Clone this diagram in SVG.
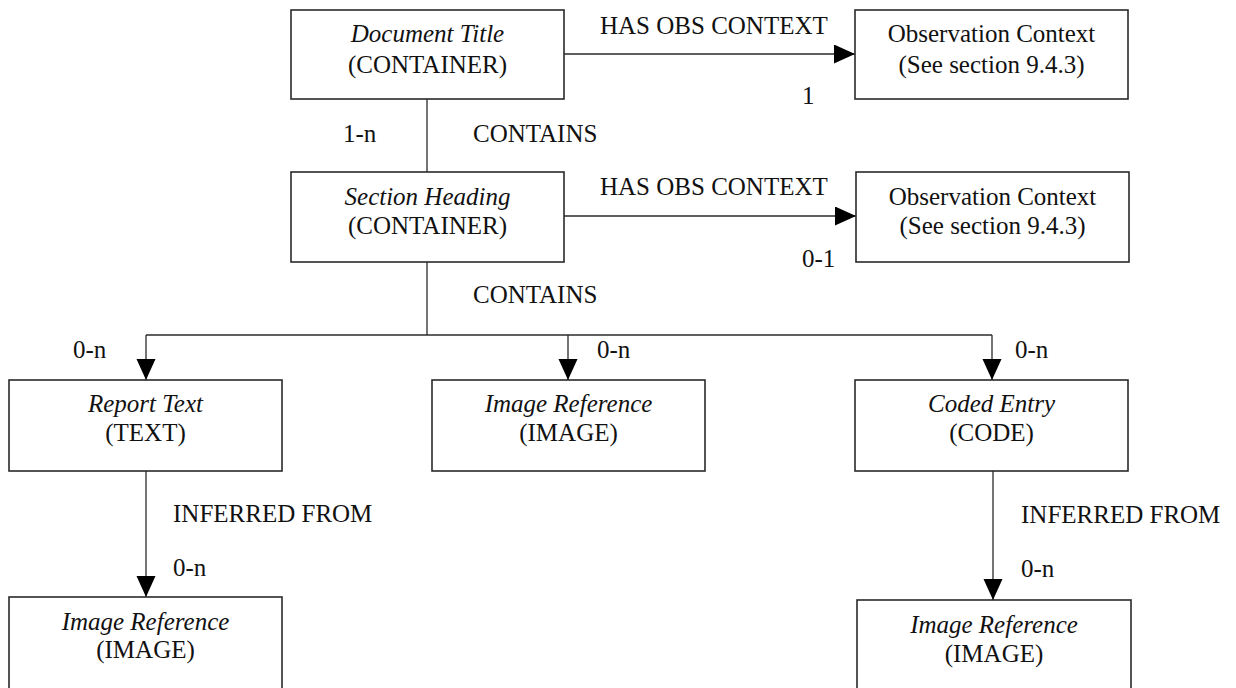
<svg xmlns="http://www.w3.org/2000/svg" width="1236" height="688" viewBox="0 0 1236 688">
<style>
  .box { fill: #fff; stroke: #2a2a2a; stroke-width: 1.6; }
  .ln { fill: none; stroke: #2a2a2a; stroke-width: 1.3; }
  text { font-family: "Liberation Serif", "Times New Roman", Times, serif; font-size: 25px; fill: #111; }
  .it { font-style: italic; }
  .c { text-anchor: middle; }
</style>
<defs>
  <marker id="arr" markerUnits="userSpaceOnUse" markerWidth="22" markerHeight="20" refX="21" refY="9.5" orient="auto">
    <path d="M0,0 L21,9.5 L0,19 Z" fill="#000"/>
  </marker>
</defs>
<rect width="1236" height="688" fill="#fff"/>
<g id="connectors">
  <line class="ln" x1="564" y1="54" x2="855" y2="54" marker-end="url(#arr)"/>
  <line class="ln" x1="564" y1="216" x2="856" y2="216" marker-end="url(#arr)"/>
  <line class="ln" x1="427" y1="99" x2="427" y2="172"/>
  <line class="ln" x1="427" y1="262" x2="427" y2="335"/>
  <line class="ln" x1="146" y1="335" x2="992" y2="335"/>
  <line class="ln" x1="146" y1="335" x2="146" y2="380" marker-end="url(#arr)"/>
  <line class="ln" x1="568" y1="335" x2="568" y2="380" marker-end="url(#arr)"/>
  <line class="ln" x1="992" y1="335" x2="992" y2="380" marker-end="url(#arr)"/>
  <line class="ln" x1="146" y1="471" x2="146" y2="597" marker-end="url(#arr)"/>
  <line class="ln" x1="993" y1="471" x2="993" y2="600" marker-end="url(#arr)"/>
  <text x="600" y="34">HAS OBS CONTEXT</text>
  <text x="802" y="104">1</text>
  <text x="343" y="142">1-n</text>
  <text x="473" y="142">CONTAINS</text>
  <text x="600" y="195">HAS OBS CONTEXT</text>
  <text x="802" y="267">0-1</text>
  <text x="473" y="303">CONTAINS</text>
  <text x="73" y="358">0-n</text>
  <text x="597" y="358">0-n</text>
  <text x="1015" y="358">0-n</text>
  <text x="173" y="522">INFERRED FROM</text>
  <text x="173" y="576">0-n</text>
  <text x="1021" y="523">INFERRED FROM</text>
  <text x="1021" y="577">0-n</text>
</g>
<g id="doc-title">
  <rect class="box" x="291" y="10" width="273" height="89"/>
  <text class="c it" x="427.5" y="42">Document Title</text>
  <text class="c" x="427.5" y="73">(CONTAINER)</text>
</g>
<g id="obs-context-1">
  <rect class="box" x="855" y="10" width="273" height="89"/>
  <text class="c" x="991.5" y="42">Observation Context</text>
  <text class="c" x="991.5" y="73">(See section 9.4.3)</text>
</g>
<g id="section-heading">
  <rect class="box" x="291" y="172" width="273" height="90"/>
  <text class="c it" x="427.5" y="205">Section Heading</text>
  <text class="c" x="427.5" y="234">(CONTAINER)</text>
</g>
<g id="obs-context-2">
  <rect class="box" x="856" y="172" width="273" height="90"/>
  <text class="c" x="992.5" y="205">Observation Context</text>
  <text class="c" x="992.5" y="234">(See section 9.4.3)</text>
</g>
<g id="report-text">
  <rect class="box" x="9" y="380" width="273" height="91"/>
  <text class="c it" x="145.5" y="412">Report Text</text>
  <text class="c" x="145.5" y="441">(TEXT)</text>
</g>
<g id="image-ref-mid">
  <rect class="box" x="432" y="380" width="273" height="91"/>
  <text class="c it" x="568.5" y="412">Image Reference</text>
  <text class="c" x="568.5" y="441">(IMAGE)</text>
</g>
<g id="coded-entry">
  <rect class="box" x="855" y="380" width="273" height="91"/>
  <text class="c it" x="991.5" y="412">Coded Entry</text>
  <text class="c" x="991.5" y="441">(CODE)</text>
</g>
<g id="image-ref-left">
  <rect class="box" x="9" y="597" width="273" height="95"/>
  <text class="c it" x="145.5" y="630">Image Reference</text>
  <text class="c" x="145.5" y="658">(IMAGE)</text>
</g>
<g id="image-ref-right">
  <rect class="box" x="857" y="600" width="274" height="95"/>
  <text class="c it" x="994" y="633">Image Reference</text>
  <text class="c" x="994" y="662">(IMAGE)</text>
</g>
</svg>
